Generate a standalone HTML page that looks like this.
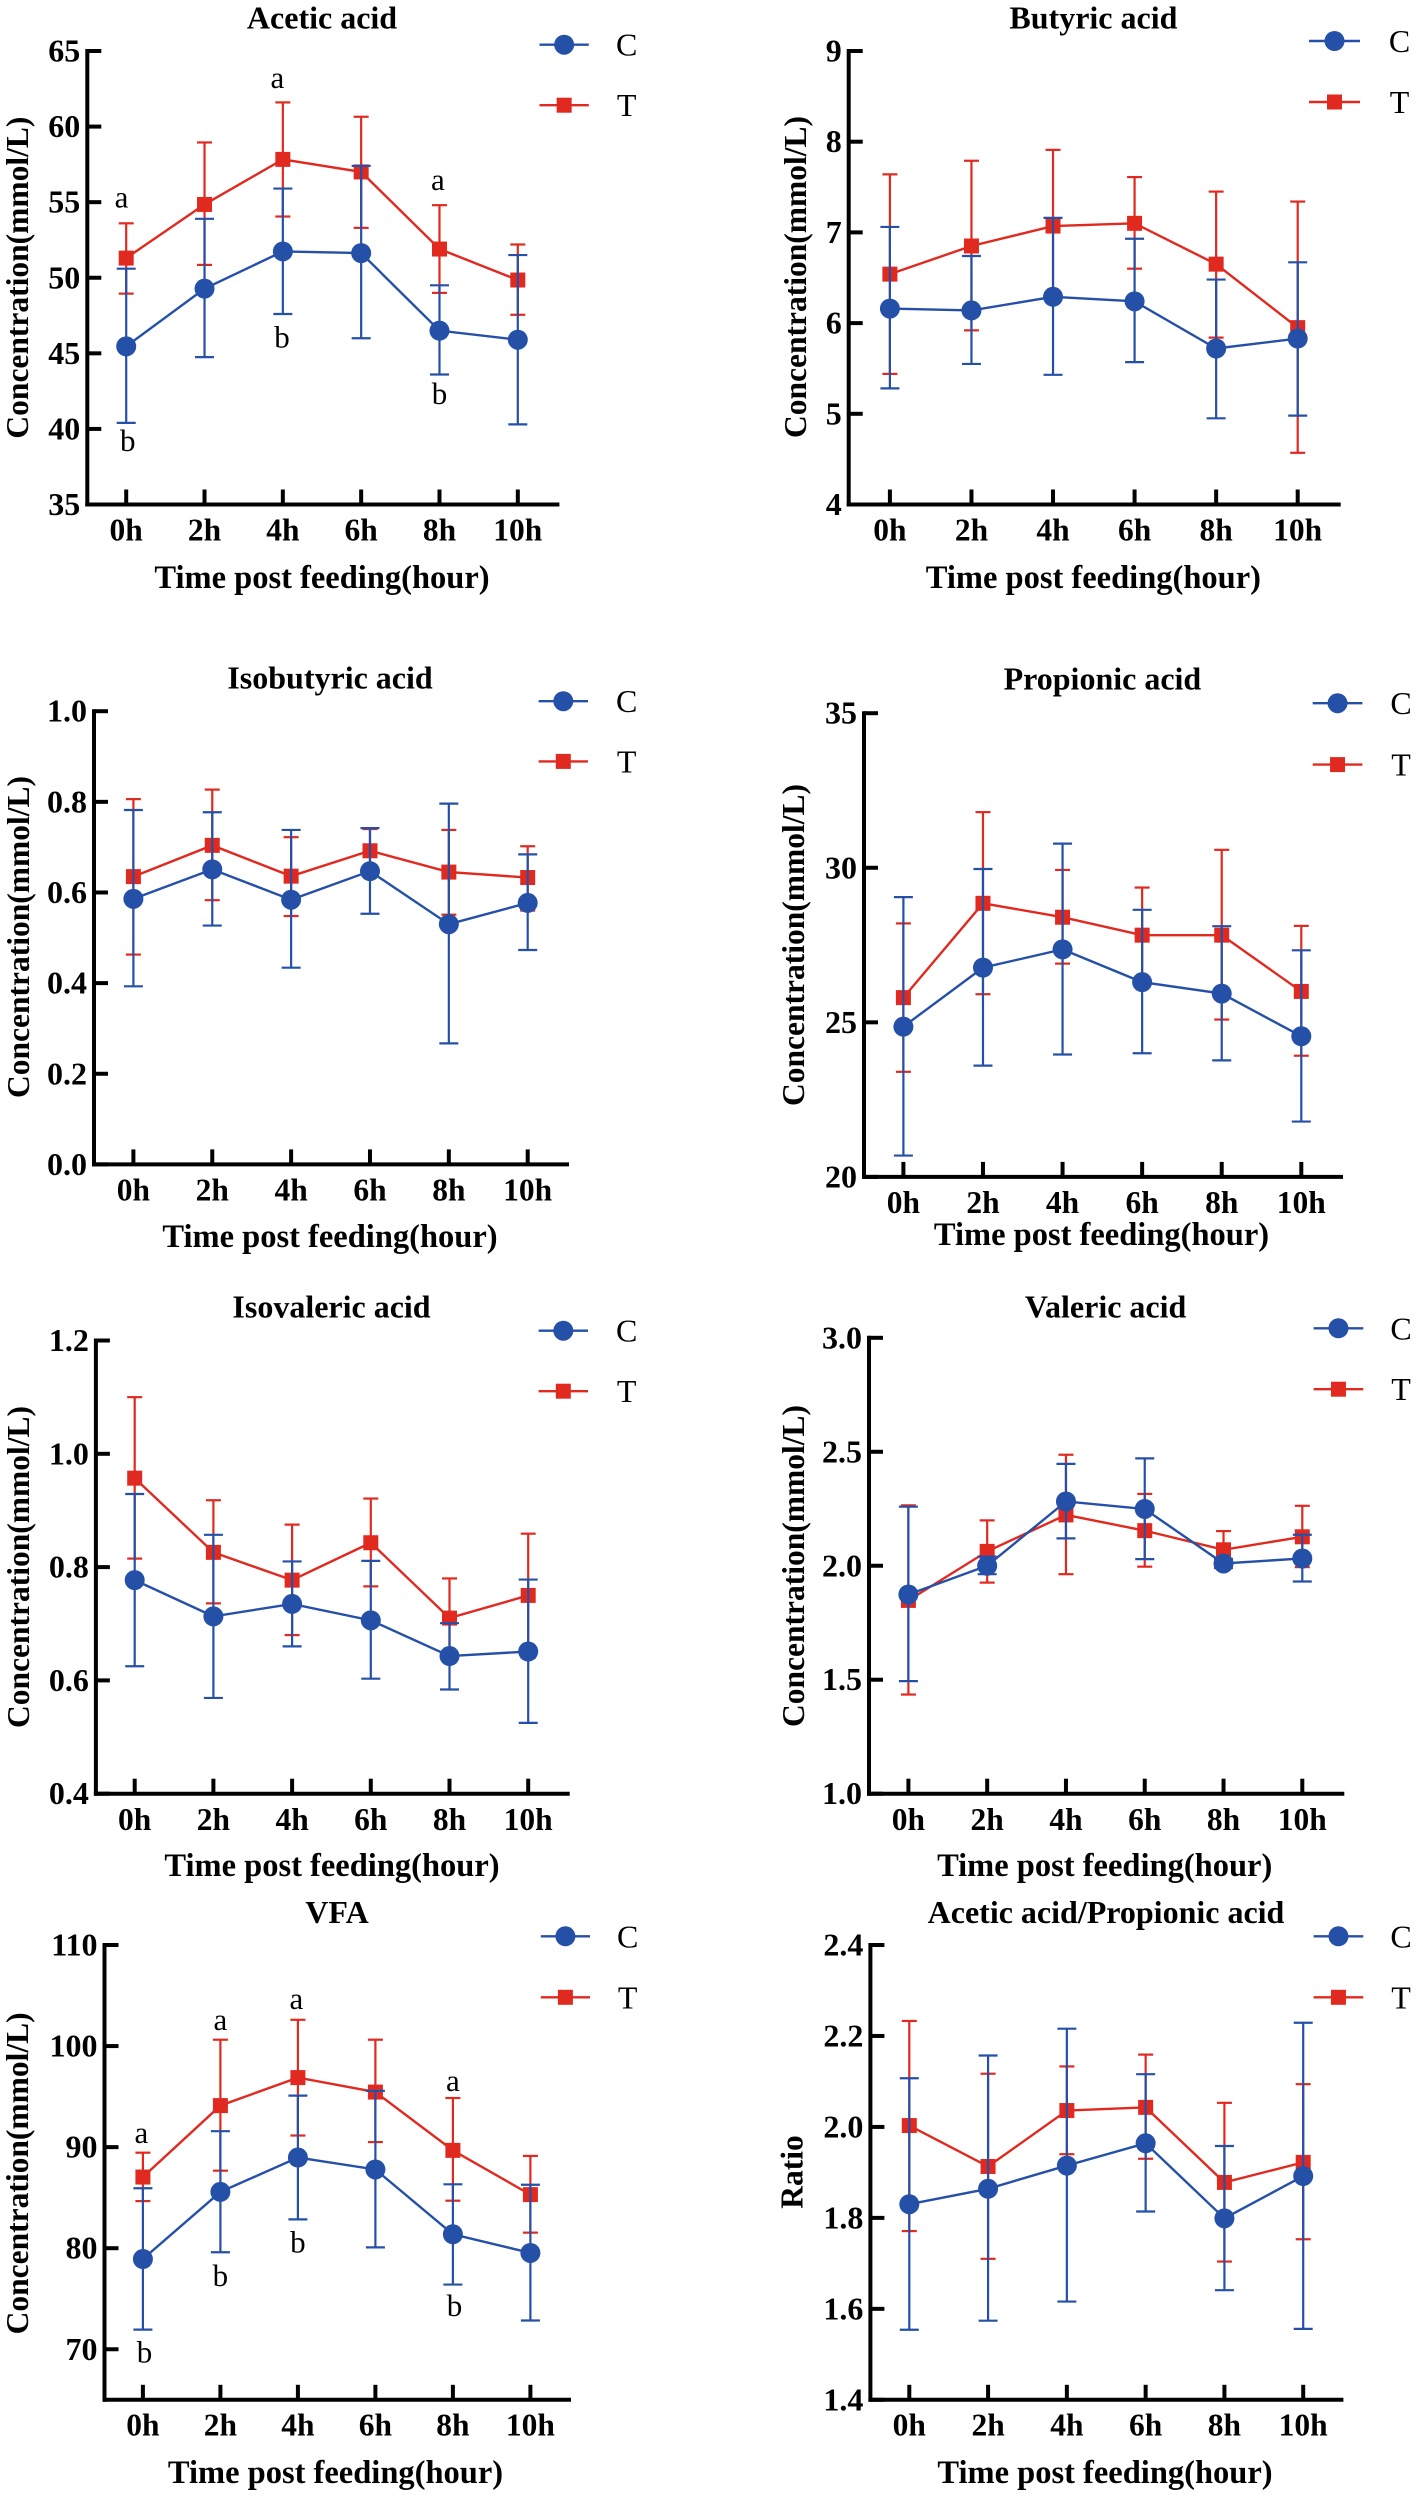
<!DOCTYPE html>
<html lang="en">
<head>
<meta charset="utf-8">
<title>Volatile fatty acid concentrations post feeding</title>
<style>
html,body{margin:0;padding:0;background:#fff;}
body{width:1418px;height:2496px;overflow:hidden;}
svg{display:block;}
text{font-family:"Liberation Serif",serif;fill:#000;}
</style>
</head>
<body>
<svg id="figure" xmlns="http://www.w3.org/2000/svg" width="1418" height="2496" viewBox="0 0 1418 2496"></svg>
<script>
// ---------- shared categories ----------
const categories = ['0h','2h','4h','6h','8h','10h'];
const seriesNames = ['C','T'];

// ---------- Acetic acid ----------
const aceticTicks = [35,40,45,50,55,60,65];
const aceticC = [45.46,49.28,51.74,51.63,46.5,45.9];
const aceticCUp = [50.6,53.9,55.9,57.4,49.5,51.5];
const aceticCLo = [40.4,44.75,47.6,46.0,43.6,40.3];
const aceticT = [51.3,54.85,57.83,57.0,51.9,49.85];
const aceticTUp = [53.6,58.95,61.6,60.65,54.8,52.2];
const aceticTLo = [48.95,50.85,54.05,53.3,49.0,47.55];
const aceticLetters = [['a',-0.06,55.1],['a',1.93,63.0],['a',3.98,56.26],['b',0.02,39.2],['b',1.99,46.06],['b',4,42.3]];

// ---------- Butyric acid ----------
const butyricTicks = [4,5,6,7,8,9];
const butyricC = [6.16,6.14,6.29,6.24,5.72,5.83];
const butyricCUp = [7.06,6.74,7.16,6.93,6.48,6.67];
const butyricCLo = [5.28,5.55,5.43,5.57,4.95,4.98];
const butyricT = [6.54,6.85,7.07,7.10,6.65,5.95];
const butyricTUp = [7.64,7.79,7.91,7.61,7.45,7.34];
const butyricTLo = [5.44,5.92,6.23,6.6,5.84,4.57];

// ---------- Isobutyric acid ----------
const isobutyricTicks = [0,0.2,0.4,0.6,0.8,1.0];
const isobutyricC = [0.586,0.651,0.584,0.647,0.53,0.577];
const isobutyricCUp = [0.782,0.777,0.738,0.742,0.796,0.684];
const isobutyricCLo = [0.393,0.527,0.434,0.553,0.267,0.473];
const isobutyricT = [0.635,0.704,0.636,0.692,0.645,0.633];
const isobutyricTUp = [0.806,0.827,0.722,0.74,0.738,0.702];
const isobutyricTLo = [0.463,0.583,0.548,0.64,0.551,0.56];

// ---------- Propionic acid ----------
const propionicTicks = [20,25,30,35];
const propionicC = [24.86,26.77,27.36,26.3,25.93,24.55];
const propionicCUp = [29.05,29.96,30.78,28.64,28.11,27.33];
const propionicCLo = [20.69,23.6,23.96,24.0,23.77,21.79];
const propionicT = [25.8,28.85,28.4,27.82,27.82,26.0];
const propionicTUp = [28.2,31.8,29.93,29.36,30.58,28.12];
const propionicTLo = [23.4,25.91,26.9,26.3,25.09,23.92];

// ---------- Isovaleric acid ----------
const isovalericTicks = [0.4,0.6,0.8,1.0,1.2];
const isovalericC = [0.777,0.713,0.735,0.706,0.643,0.651];
const isovalericCUp = [0.929,0.857,0.81,0.811,0.701,0.778];
const isovalericCLo = [0.625,0.569,0.66,0.603,0.584,0.525];
const isovalericT = [0.957,0.826,0.777,0.843,0.71,0.75];
const isovalericTUp = [1.1,0.918,0.875,0.921,0.78,0.859];
const isovalericTLo = [0.815,0.736,0.68,0.766,0.64,0.64];

// ---------- Valeric acid ----------
const valericTicks = [1.0,1.5,2.0,2.5,3.0];
const valericC = [1.874,2.0,2.282,2.249,2.01,2.032];
const valericCUp = [2.259,2.04,2.447,2.471,2.03,2.136];
const valericCLo = [1.494,1.963,2.12,2.029,1.99,1.931];
const valericT = [1.848,2.063,2.223,2.154,2.07,2.127];
const valericTUp = [2.265,2.199,2.487,2.315,2.152,2.263];
const valericTLo = [1.435,1.926,1.963,1.996,1.99,1.994];

// ---------- VFA ----------
const vfaTicks = [70,80,90,100,110];
const vfaC = [78.93,85.57,88.97,87.79,81.38,79.53];
const vfaCUp = [85.93,91.58,95.1,95.57,86.32,86.28];
const vfaCLo = [71.94,79.6,82.85,80.08,76.4,72.85];
const vfaT = [87.04,94.11,96.88,95.45,89.68,85.3];
const vfaTUp = [89.45,100.63,102.6,100.63,94.86,89.13];
const vfaTLo = [84.66,87.67,91.15,90.5,84.7,81.54];
const vfaLetters = [['a',-0.02,91.1],['a',1,102.3],['a',1.98,104.35],['a',4,96.25],['b',0.02,69.7],['b',1,77.27],['b',2,80.55],['b',4.02,74.27]];

// ---------- Acetic acid / Propionic acid ----------
const ratioTicks = [1.4,1.6,1.8,2.0,2.2,2.4];
const ratioC = [1.83,1.864,1.915,1.964,1.799,1.892];
const ratioCUp = [2.107,2.157,2.216,2.116,1.958,2.229];
const ratioCLo = [1.554,1.574,1.616,1.814,1.641,1.556];
const ratioT = [2.003,1.913,2.036,2.043,1.878,1.922];
const ratioTUp = [2.233,2.117,2.133,2.159,2.053,2.094];
const ratioTLo = [1.771,1.71,1.94,1.93,1.704,1.753];

// ---------- layout of each panel (pixels) ----------
const BLUE = '#2550a8';
const RED = '#e02a20';
const panels = [
 {key:'acetic',title:'Acetic acid',ylabel:'Concentration(mmol/L)',min:35,max:65,dec:0,ticks:aceticTicks,c:aceticC,cu:aceticCUp,cl:aceticCLo,t:aceticT,tu:aceticTUp,tl:aceticTLo,letters:aceticLetters,
  ax:87.3,x0:126.2,x1:517.8,xe:559.4,top:51,bot:504.5,tx:322,ty:18.6,lgx0:539.5,lgx1:588.8,lgt:626.7,lgc:44.7,lgT:105.2,xt:530,xl:578,xlc:322,ylx:19,yly:277.6},
 {key:'butyric',title:'Butyric acid',ylabel:'Concentration(mmol/L)',min:4,max:9,dec:0,ticks:butyricTicks,c:butyricC,cu:butyricCUp,cl:butyricCLo,t:butyricT,tu:butyricTUp,tl:butyricTLo,letters:[],
  ax:848.7,x0:889.9,x1:1297.7,xe:1340.7,top:51,bot:504.5,tx:1093.4,ty:18.6,lgx0:1309,lgx1:1360,lgt:1399.5,lgc:41,lgT:102,xt:530,xl:578,xlc:1093.4,ylx:797,yly:277},
 {key:'isobutyric',title:'Isobutyric acid',ylabel:'Concentration(mmol/L)',min:0,max:1,dec:1,ticks:isobutyricTicks,c:isobutyricC,cu:isobutyricCUp,cl:isobutyricCLo,t:isobutyricT,tu:isobutyricTUp,tl:isobutyricTLo,letters:[],
  ax:94,x0:133.4,x1:527.7,xe:569,top:711.2,bot:1164.4,tx:330,ty:678.3,lgx0:538.6,lgx1:588,lgt:626.7,lgc:701.2,lgT:761.4,xt:1189.8,xl:1236.8,xlc:330,ylx:20,yly:937},
 {key:'propionic',title:'Propionic acid',ylabel:'Concentration(mmol/L)',min:20,max:35,dec:0,ticks:propionicTicks,c:propionicC,cu:propionicCUp,cl:propionicCLo,t:propionicT,tu:propionicTUp,tl:propionicTLo,letters:[],
  ax:864,x0:903.4,x1:1301.3,xe:1343,top:713.2,bot:1176.9,tx:1102.4,ty:679.5,lgx0:1312.7,lgx1:1362.4,lgt:1401,lgc:703.2,lgT:764.6,xt:1202.6,xl:1234.8,xlc:1101.5,ylx:795,yly:945},
 {key:'isovaleric',title:'Isovaleric acid',ylabel:'Concentration(mmol/L)',min:0.4,max:1.2,dec:1,ticks:isovalericTicks,c:isovalericC,cu:isovalericCUp,cl:isovalericCLo,t:isovalericT,tu:isovalericTUp,tl:isovalericTLo,letters:[],
  ax:95.9,x0:134.7,x1:528.2,xe:569.7,top:1340.5,bot:1793.7,tx:331.5,ty:1307.3,lgx0:538.6,lgx1:588,lgt:626.7,lgc:1330.7,lgT:1391.2,xt:1819.4,xl:1866,xlc:332,ylx:20,yly:1567},
 {key:'valeric',title:'Valeric acid',ylabel:'Concentration(mmol/L)',min:1,max:3,dec:1,ticks:valericTicks,c:valericC,cu:valericCUp,cl:valericCLo,t:valericT,tu:valericTUp,tl:valericTLo,letters:[],
  ax:869,x0:908.4,x1:1302.3,xe:1344.3,top:1337.8,bot:1793.7,tx:1105.6,ty:1307.3,lgx0:1313.6,lgx1:1363.3,lgt:1401,lgc:1328.3,lgT:1389.2,xt:1819.4,xl:1866,xlc:1104.7,ylx:795,yly:1566},
 {key:'vfa',title:'VFA',ylabel:'Concentration(mmol/L)',min:65,max:110,dec:0,ticks:vfaTicks,c:vfaC,cu:vfaCUp,cl:vfaCLo,t:vfaT,tu:vfaTUp,tl:vfaTLo,letters:vfaLetters,
  ax:104.5,x0:142.9,x1:530.4,xe:571,top:1945,bot:2399.8,tx:337,ty:1913,lgx0:540.8,lgx1:590,lgt:627.7,lgc:1936.3,lgT:1997.3,xt:2425,xl:2472.8,xlc:335.5,ylx:19,yly:2173.4},
 {key:'ratio',title:'Acetic acid/Propionic acid',ylabel:'Ratio',min:1.4,max:2.4,dec:1,ticks:ratioTicks,c:ratioC,cu:ratioCUp,cl:ratioCLo,t:ratioT,tu:ratioTUp,tl:ratioTLo,letters:[],
  ax:870.4,x0:909.3,x1:1303.2,xe:1343.4,top:1945,bot:2399.8,tx:1106,ty:1913,lgx0:1313.6,lgx1:1363.3,lgt:1401,lgc:1936.3,lgT:1997.3,xt:2425,xl:2472.8,xlc:1105,ylx:793.6,yly:2172}
];

const NS = 'http://www.w3.org/2000/svg';
const svg = document.getElementById('figure');

function mk(parent, tag, attrs, content) {
  const node = document.createElementNS(NS, tag);
  for (const k in attrs) node.setAttribute(k, attrs[k]);
  if (content !== undefined) node.textContent = content;
  parent.appendChild(node);
  return node;
}

function drawSeries(g, p, name, vals, ups, los, color, capHalf, xScale, yScale) {
  const sg = mk(g, 'g', {});
  
  

  vals.forEach(function (v, i) {
    const x = xScale(i);
    const bar = mk(sg, 'line', {x1:x, x2:x, y1:yScale(ups[i]), y2:yScale(los[i]), stroke:color, 'stroke-width':2.2});
    
    
    const capU = mk(sg, 'line', {x1:x-capHalf, x2:x+capHalf, y1:yScale(ups[i]), y2:yScale(ups[i]), stroke:color, 'stroke-width':2.2});
    
    
    const capL = mk(sg, 'line', {x1:x-capHalf, x2:x+capHalf, y1:yScale(los[i]), y2:yScale(los[i]), stroke:color, 'stroke-width':2.2});
    
    
  });

  const pts = vals.map(function (v, i) { return xScale(i) + ',' + yScale(v); }).join(' ');
  const line = mk(sg, 'polyline', {points:pts, fill:'none', stroke:color, 'stroke-width':2.4});
  
  

  vals.forEach(function (v, i) {
    const x = xScale(i), y = yScale(v);
    let m;
    if (name === 'C') {
      m = mk(sg, 'circle', {cx:x, cy:y, r:10, fill:color});
    } else {
      m = mk(sg, 'rect', {x:x-7.5, y:y-7.5, width:15, height:15, fill:color});
    }
    
    
  });
}

function drawPanel(p) {
  const g = mk(svg, 'g', {});
  
  

  const xScale = function (i) { return p.x0 + i * (p.x1 - p.x0) / (categories.length - 1); };
  const yScale = function (v) { return p.top + (p.max - v) / (p.max - p.min) * (p.bot - p.top); };

  const title = mk(g, 'text', {x:p.tx, y:p.ty + 10, 'text-anchor':'middle', 'font-size':32, 'font-weight':'bold'}, p.title);
  
  

  // axes
  const yAxis = mk(g, 'line', {x1:p.ax, x2:p.ax, y1:p.top - 2, y2:p.bot + 2, stroke:'#000', 'stroke-width':4});
  
  
  const xAxis = mk(g, 'line', {x1:p.ax - 2, x2:p.xe, y1:p.bot, y2:p.bot, stroke:'#000', 'stroke-width':4});
  
  

  // y ticks
  p.ticks.forEach(function (v) {
    const y = yScale(v);
    const t = mk(g, 'line', {x1:p.ax, x2:p.ax + 14, y1:y, y2:y, stroke:'#000', 'stroke-width':4});
    
    
    const lab = mk(g, 'text', {x:p.ax - 7, y:y + 10.5, 'text-anchor':'end', 'font-size':32, 'font-weight':'bold'}, v.toFixed(p.dec));
    
    
  });

  // x ticks
  categories.forEach(function (c, i) {
    const x = xScale(i);
    const t = mk(g, 'line', {x1:x, x2:x, y1:p.bot, y2:p.bot - 15, stroke:'#000', 'stroke-width':4});
    
    
    const lab = mk(g, 'text', {x:x, y:p.xt + 10.5, 'text-anchor':'middle', 'font-size':31.5, 'font-weight':'bold'}, c);
    
    
  });

  const xTitle = mk(g, 'text', {x:p.xlc, y:p.xl + 10, 'text-anchor':'middle', 'font-size':32.5, 'font-weight':'bold'}, 'Time post feeding(hour)');
  
  

  const yTitle = mk(g, 'text', {transform:'translate(' + (p.ylx + 9) + ',' + p.yly + ') rotate(-90)', 'text-anchor':'middle', 'font-size':31.5, 'font-weight':'bold'}, p.ylabel);
  
  

  // series: T below, C on top
  drawSeries(g, p, 'T', p.t, p.tu, p.tl, RED, 7.5, xScale, yScale);
  drawSeries(g, p, 'C', p.c, p.cu, p.cl, BLUE, 9.5, xScale, yScale);

  // significance letters
  p.letters.forEach(function (l) {
    const off = l[0] === 'a' ? 7 : 10;
    const tx = mk(g, 'text', {x:p.x0 + l[1] * (p.x1 - p.x0) / (categories.length - 1), y:yScale(l[2]) + off, 'text-anchor':'middle', 'font-size':31}, l[0]);
    
    
  });

  // legend
  const lg = mk(g, 'g', {});
  
  
  seriesNames.forEach(function (name) {
    const color = name === 'C' ? BLUE : RED;
    const y = name === 'C' ? p.lgc : p.lgT;
    const mid = (p.lgx0 + p.lgx1) / 2;
    const entry = mk(lg, 'g', {});
    
    
    const ln = mk(entry, 'line', {x1:p.lgx0, x2:p.lgx1, y1:y, y2:y, stroke:color, 'stroke-width':2.4});
    
    
    let mark;
    if (name === 'C') {
      mark = mk(entry, 'circle', {cx:mid, cy:y, r:10, fill:color});
    } else {
      mark = mk(entry, 'rect', {x:mid - 7.5, y:y - 7.5, width:15, height:15, fill:color});
    }
    
    
    const lt = mk(entry, 'text', {x:p.lgt, y:y + 11, 'text-anchor':'middle', 'font-size':32}, name);
    
    
  });
}

panels.forEach(drawPanel);
</script>
</body>
</html>
